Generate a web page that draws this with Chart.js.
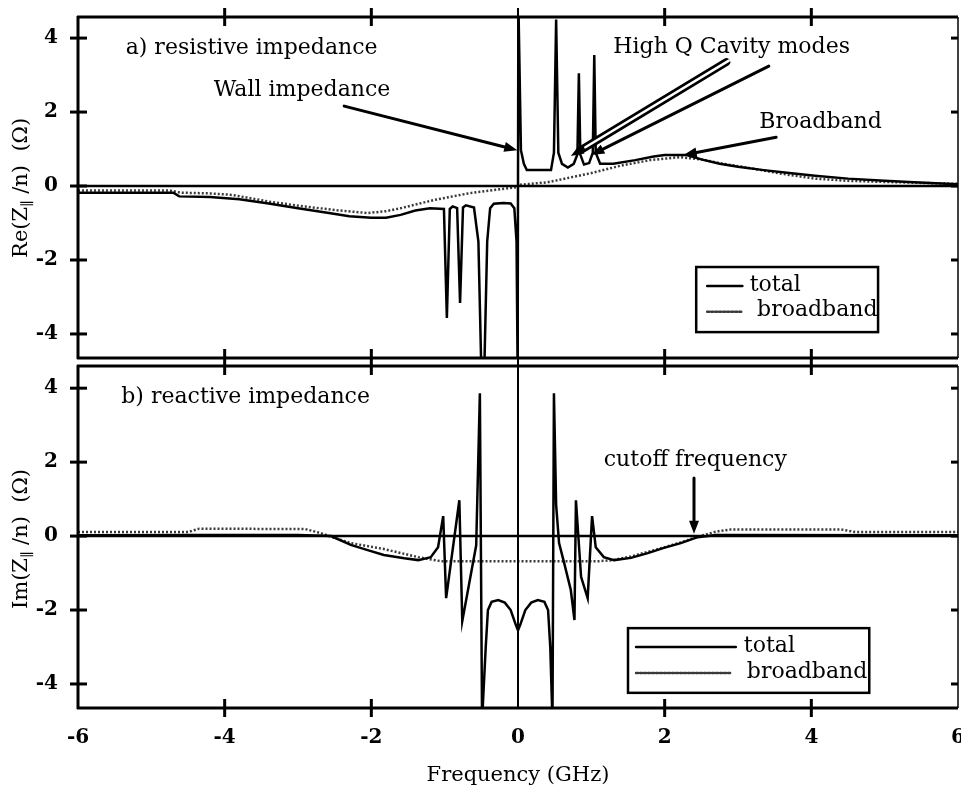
<!DOCTYPE html>
<html>
<head>
<meta charset="utf-8">
<script src="https://cdn.jsdelivr.net/npm/chart.js@4.4.0/dist/chart.umd.min.js"></script>
<style>
  body { margin: 0; background: #fff; }
  #wrap { position: relative; width: 961px; height: 792px; background: #fff; }
  canvas { position: absolute; left: 0; }
</style>
</head>
<body>
<div id="wrap">
  <canvas id="re" width="961" height="362" style="top:0"></canvas>
  <canvas id="im" width="961" height="430" style="top:362px"></canvas>
</div>
<script>
const X_TICKS = [-6, -4, -2, 0, 2, 4, 6];
const Y_TICKS = [-4, -2, 0, 2, 4];

// [frequency (GHz), value (Ohm)]
const RE_TOTAL = [
  [-6, -0.18], [-4.7, -0.18], [-4.62, -0.28], [-4.2, -0.3], [-3.8, -0.36], [-3.4, -0.47],
  [-3.0, -0.6], [-2.6, -0.72], [-2.3, -0.82], [-2.0, -0.86], [-1.8, -0.86], [-1.6, -0.78],
  [-1.4, -0.66], [-1.2, -0.6], [-1.01, -0.62], [-0.97, -3.57], [-0.93, -0.62], [-0.89, -0.55],
  [-0.83, -0.6], [-0.79, -3.16], [-0.75, -0.58], [-0.71, -0.52], [-0.6, -0.58], [-0.54, -1.5],
  [-0.5, -5], [-0.46, -5], [-0.42, -1.5], [-0.38, -0.6], [-0.33, -0.48], [-0.2, -0.46],
  [-0.1, -0.47], [-0.05, -0.6], [-0.02, -1.5], [-0.005, -5],
  [0.005, 5], [0.04, 0.97], [0.08, 0.6], [0.12, 0.43], [0.45, 0.43], [0.49, 0.9], [0.52, 4.5],
  [0.55, 0.9], [0.6, 0.6], [0.68, 0.5], [0.76, 0.6], [0.81, 0.85], [0.83, 3.05], [0.85, 0.85],
  [0.9, 0.58], [0.97, 0.62], [1.02, 0.9], [1.04, 3.54], [1.06, 0.9], [1.12, 0.6], [1.3, 0.6],
  [1.6, 0.7], [1.85, 0.8], [2.0, 0.84], [2.3, 0.84], [2.5, 0.72], [2.75, 0.6], [3.0, 0.52],
  [3.35, 0.43], [3.7, 0.35], [4.05, 0.28], [4.5, 0.2], [5.0, 0.14], [5.4, 0.1], [6.0, 0.05]
];
const RE_BROAD = [
  [-6, -0.12], [-4.75, -0.12], [-4.6, -0.18], [-4.2, -0.2], [-3.9, -0.24], [-3.4, -0.42],
  [-3.0, -0.53], [-2.5, -0.65], [-2.05, -0.73], [-1.8, -0.68], [-1.6, -0.6], [-1.15, -0.38],
  [-0.68, -0.2], [-0.3, -0.1], [0, -0.03], [0, 0.03], [0.4, 0.1], [1.0, 0.35], [1.4, 0.55],
  [1.8, 0.7], [2.2, 0.78], [2.5, 0.72], [2.8, 0.6], [3.15, 0.49], [3.6, 0.33], [4.05, 0.2],
  [4.5, 0.14], [5.0, 0.11], [6.0, 0.06]
];
const IM_TOTAL = [
  [-6, 0.02], [-4.5, 0.03], [-3.0, 0.03], [-2.55, 0], [-2.28, -0.24], [-2.05, -0.38],
  [-1.83, -0.51], [-1.55, -0.6], [-1.36, -0.65], [-1.19, -0.57], [-1.09, -0.3], [-1.02, 0.54],
  [-0.98, -1.68], [-0.8, 0.97], [-0.76, -2.3], [-0.57, -0.25], [-0.52, 3.86], [-0.49, -5],
  [-0.44, -3.0], [-0.41, -2.0], [-0.36, -1.78], [-0.27, -1.73], [-0.18, -1.8], [-0.1, -2.0],
  [-0.03, -2.4], [0, -2.55], [0.03, -2.4], [0.1, -2.0], [0.18, -1.8], [0.27, -1.73],
  [0.36, -1.78], [0.41, -2.0], [0.44, -3.0], [0.47, -5], [0.49, 3.86], [0.52, 0.84],
  [0.56, -0.19], [0.63, -0.73], [0.72, -1.46], [0.77, -2.27], [0.79, 0.97], [0.86, -1.1],
  [0.95, -1.68], [1.01, 0.54], [1.06, -0.3], [1.17, -0.57], [1.31, -0.65], [1.54, -0.59],
  [1.77, -0.46], [1.99, -0.32], [2.22, -0.19], [2.45, -0.03], [2.7, 0.03], [6, 0.02]
];
const IM_BROAD = [
  [-6, 0.11], [-4.5, 0.11], [-4.35, 0.2], [-2.9, 0.19], [-2.69, 0.08], [-2.5, -0.05],
  [-2.28, -0.19], [-1.83, -0.35], [-1.36, -0.57], [-1.05, -0.68], [0, -0.68], [1.1, -0.68],
  [1.3, -0.65], [1.54, -0.55], [1.77, -0.43], [2.0, -0.3], [2.22, -0.17], [2.45, -0.02],
  [2.7, 0.12], [2.9, 0.18], [4.4, 0.18], [4.6, 0.11], [6, 0.11]
];

const SERIF = '"DejaVu Serif", serif';
const TEXT_FONT = '22px ' + SERIF;

// annotations, in data units of each panel
const RE_DECOR = {
  title: { pre: 'Re(Z', sub: '\u2225', post: ' /n)  (\u03a9)', v: -0.05 },
  vTop: 8,
  notes: [
    { text: 'a) resistive impedance', f: -5.35, v: 3.73 },
    { text: 'Wall impedance', f: -4.15, v: 2.6 },
    { text: 'High Q Cavity modes', f: 1.3, v: 3.76 },
    { text: 'Broadband', f: 3.29, v: 1.73 }
  ],
  arrows: [
    { from: [-2.37, 2.16], to: [-0.01, 0.97] },
    { from: [2.84, 3.35], to: [0.72, 0.81], hollow: true },
    { from: [3.42, 3.24], to: [1.0, 0.84] },
    { from: [3.52, 1.32], to: [2.26, 0.84] }
  ],
  legend: {
    box: [2.43, -2.19, 4.91, -3.95],
    rows: [
      { label: 'total', dash: false, l: [2.58, 3.06], t: 3.16, v: -2.7 },
      { label: 'broadband', dash: true, l: [2.58, 3.06], t: 3.26, v: -3.4 }
    ]
  }
};
const IM_DECOR = {
  title: { pre: 'Im(Z', sub: '\u2225', post: ' /n)  (\u03a9)', v: -0.08 },
  vTop: 0,
  notes: [
    { text: 'b) reactive impedance', f: -5.41, v: 3.76 },
    { text: 'cutoff frequency', f: 1.17, v: 2.05 }
  ],
  arrows: [
    { from: [2.4, 1.57], to: [2.4, 0.06] }
  ],
  legend: {
    box: [1.5, -2.49, 4.79, -4.24],
    rows: [
      { label: 'total', dash: false, l: [1.61, 2.97], t: 3.08, v: -3.0 },
      { label: 'broadband', dash: true, l: [1.61, 2.91], t: 3.12, v: -3.7 }
    ]
  }
};

const BROAD_DASH = [2, 2];
const BROAD_COLOR = '#3a3a3a';

function toXY(pairs) {
  return pairs.map(([f, v]) => ({ x: f, y: v }));
}

function arrow(ctx, x1, y1, x2, y2, hollow) {
  const ang = Math.atan2(y2 - y1, x2 - x1);
  const head = 13, half = 5;
  const bx = x2 - head * Math.cos(ang), by = y2 - head * Math.sin(ang);
  ctx.strokeStyle = '#000';
  ctx.lineCap = 'round';
  ctx.beginPath();
  ctx.moveTo(x1, y1);
  ctx.lineTo(bx, by);
  ctx.lineWidth = hollow ? 8 : 3;
  ctx.stroke();
  if (hollow) {
    ctx.strokeStyle = '#fff';
    ctx.lineWidth = 2.5;
    ctx.beginPath();
    ctx.moveTo(x1 - 3 * Math.cos(ang), y1 - 3 * Math.sin(ang));
    ctx.lineTo(bx - 4 * Math.cos(ang), by - 4 * Math.sin(ang));
    ctx.stroke();
  }
  ctx.fillStyle = '#000';
  ctx.beginPath();
  ctx.moveTo(x2, y2);
  ctx.lineTo(bx + half * Math.sin(ang), by - half * Math.cos(ang));
  ctx.lineTo(bx - half * Math.sin(ang), by + half * Math.cos(ang));
  ctx.closePath();
  ctx.fill();
}

function line(ctx, x1, y1, x2, y2, w) {
  ctx.lineWidth = w;
  ctx.beginPath();
  ctx.moveTo(x1, y1);
  ctx.lineTo(x2, y2);
  ctx.stroke();
}

function decorPlugin(cfg) {
  return {
    id: 'decor',
    beforeDraw(chart) {
      const ctx = chart.ctx;
      ctx.save();
      ctx.fillStyle = '#fff';
      ctx.fillRect(0, 0, chart.width, chart.height);
      ctx.restore();
    },
    afterDatasetsDraw(chart) {
      const { ctx, chartArea: a } = chart;
      const xs = chart.scales.x, ys = chart.scales.y;
      const px = f => xs.getPixelForValue(f);
      const py = v => ys.getPixelForValue(v);
      ctx.save();
      ctx.strokeStyle = '#000';
      ctx.lineCap = 'butt';

      // zero lines
      line(ctx, a.left, py(0), a.right, py(0), 2.5);
      const bottomEnd = cfg.vTop > 0 ? chart.height : a.bottom;
      line(ctx, px(0), cfg.vTop, px(0), bottomEnd, 2);

      // frame
      line(ctx, a.left - 1, a.top, a.right, a.top, 3);
      line(ctx, a.left - 1, a.bottom, a.right, a.bottom, 3);
      line(ctx, a.left, a.top - 1, a.left, a.bottom + 1, 3);
      line(ctx, a.right, a.top, a.right, a.bottom, 1.5);

      // crossing ticks
      X_TICKS.filter(t => t > -6 && t < 6 && t !== 0).forEach(t => {
        line(ctx, px(t), a.top - 9, px(t), a.top + 9, 3);
        line(ctx, px(t), a.bottom - 9, px(t), a.bottom + 9, 3);
      });
      Y_TICKS.forEach(t => {
        line(ctx, a.left - 8, py(t), a.left + 9, py(t), 3);
        line(ctx, a.right - 7, py(t), a.right, py(t), 3);
      });

      // notes and arrows
      ctx.fillStyle = '#000';
      ctx.font = TEXT_FONT;
      ctx.textAlign = 'left';
      ctx.textBaseline = 'middle';
      cfg.notes.forEach(n => ctx.fillText(n.text, px(n.f), py(n.v)));
      cfg.arrows.forEach(r => arrow(ctx, px(r.from[0]), py(r.from[1]), px(r.to[0]), py(r.to[1]), r.hollow));

      // legend box
      const lg = cfg.legend;
      ctx.strokeStyle = '#000';
      ctx.lineWidth = 2.5;
      ctx.strokeRect(px(lg.box[0]), py(lg.box[1]), px(lg.box[2]) - px(lg.box[0]), py(lg.box[3]) - py(lg.box[1]));
      lg.rows.forEach(r => {
        ctx.save();
        if (r.dash) {
          ctx.setLineDash(BROAD_DASH);
          ctx.strokeStyle = BROAD_COLOR;
        }
        line(ctx, px(r.l[0]), py(r.v), px(r.l[1]), py(r.v), 2.5);
        ctx.restore();
        ctx.fillStyle = '#000';
        ctx.font = TEXT_FONT;
        ctx.textBaseline = 'middle';
        ctx.fillText(r.label, px(r.t), py(r.v) - 1);
      });

      // y axis title with subscript
      const t = cfg.title;
      const tf = '21px ' + SERIF;
      ctx.translate(22, py(t.v));
      ctx.rotate(-Math.PI / 2);
      ctx.font = tf;
      const w1 = ctx.measureText(t.pre).width;
      const w3 = ctx.measureText(t.post).width;
      ctx.font = '14px ' + SERIF;
      const w2 = ctx.measureText(t.sub).width;
      let x0 = -(w1 + w2 + w3) / 2;
      ctx.textAlign = 'left';
      ctx.textBaseline = 'middle';
      ctx.font = tf;
      ctx.fillText(t.pre, x0, 0);
      ctx.font = '14px ' + SERIF;
      ctx.fillText(t.sub, x0 + w1, 6);
      ctx.font = tf;
      ctx.fillText(t.post, x0 + w1 + w2, 0);
      ctx.restore();
    }
  };
}

function buildChart(id, total, broad, decor, showX, yMin, yMax, pad) {
  return new Chart(document.getElementById(id), {
    type: 'line',
    data: {
      datasets: [
        { label: 'total', data: toXY(total), borderColor: '#000', borderWidth: 2.5,
          pointRadius: 0, tension: 0, fill: false },
        { label: 'broadband', data: toXY(broad), borderColor: BROAD_COLOR, borderWidth: 2.5,
          borderDash: BROAD_DASH, pointRadius: 0, tension: 0, fill: false }
      ]
    },
    options: {
      responsive: false,
      animation: false,
      events: [],
      layout: { padding: pad },
      plugins: { legend: { display: false }, tooltip: { enabled: false } },
      scales: {
        x: {
          type: 'linear', min: -6, max: 6, display: showX,
          afterBuildTicks: s => { s.ticks = X_TICKS.map(v => ({ value: v })); },
          afterFit: s => {
            if (showX) s.height = 84;
            s.paddingLeft = 0;
            s.paddingRight = 0;
          },
          grid: { display: false, drawTicks: false },
          border: { display: false },
          ticks: { color: '#000', padding: 18, maxRotation: 0,
                   font: { family: SERIF, size: 20, weight: 'bold' },
                   callback: v => String(v) },
          title: { display: showX, text: 'Frequency (GHz)', color: '#000',
                   font: { family: SERIF, size: 21 }, padding: { top: 6, bottom: 4 } }
        },
        y: {
          type: 'linear', min: yMin, max: yMax,
          afterBuildTicks: s => { s.ticks = Y_TICKS.map(v => ({ value: v })); },
          afterFit: s => {
            s.width = 78;
            s.paddingTop = 0;
            s.paddingBottom = 0;
          },
          grid: { display: false, drawTicks: false },
          border: { display: false },
          ticks: { color: '#000', padding: 20,
                   font: { family: SERIF, size: 20, weight: 'bold' },
                   callback: v => String(v) }
        }
      }
    },
    plugins: [decorPlugin(decor)]
  });
}

buildChart('re', RE_TOTAL, RE_BROAD, RE_DECOR, false, -4.65, 4.57,
  { top: 17, right: 3, bottom: 4, left: 0 });
buildChart('im', IM_TOTAL, IM_BROAD, IM_DECOR, true, -4.65, 4.6,
  { top: 4, right: 3, bottom: 0, left: 0 });
</script>
</body>
</html>
